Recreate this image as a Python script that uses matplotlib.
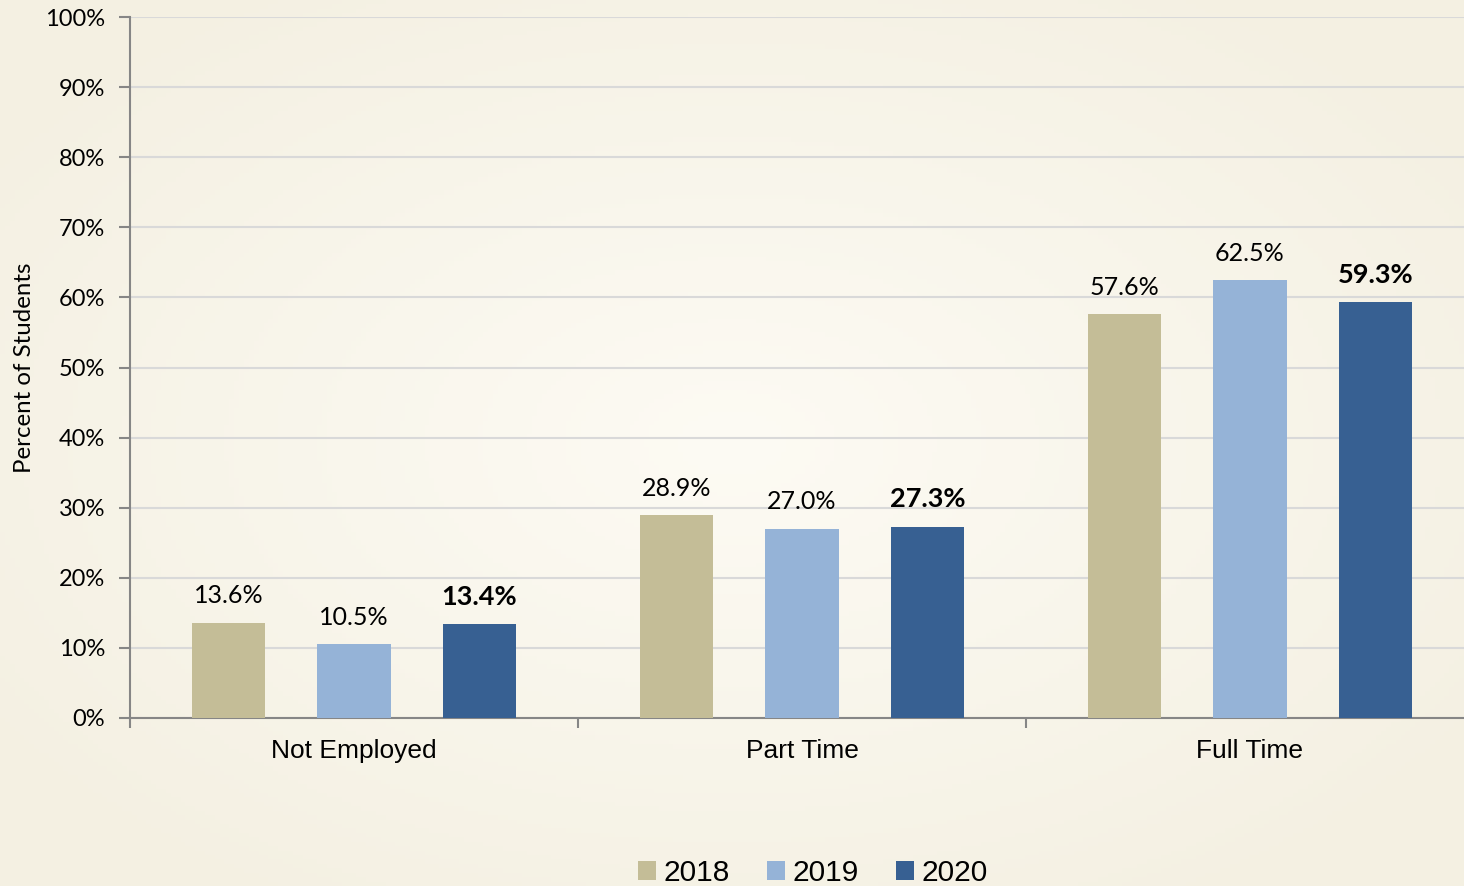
import numpy as np
import matplotlib
matplotlib.use("Agg")
import matplotlib.pyplot as plt
from matplotlib.colors import LinearSegmentedColormap

# ---- data -------------------------------------------------------------
categories = ["Not Employed", "Part Time", "Full Time"]
years = ["2018", "2019", "2020"]
values_2018 = [13.6, 28.9, 57.6]
values_2019 = [10.5, 27.0, 62.5]
values_2020 = [13.4, 27.3, 59.3]
y_ticks = [0, 10, 20, 30, 40, 50, 60, 70, 80, 90, 100]

series = [values_2018, values_2019, values_2020]
colors = ["#C4BD97", "#95B3D7", "#376092"]

W, H = 1464, 886
fig = plt.figure(figsize=(W / 100, H / 100), dpi=100)

# radial cream background
bg = fig.add_axes([0, 0, 1, 1], zorder=-10)
gx, gy = np.meshgrid(np.linspace(-1, 1, 300), np.linspace(-1, 1, 200))
r = np.clip(np.sqrt(gx ** 2 + gy ** 2) / 1.25, 0, 1)
cmap = LinearSegmentedColormap.from_list("cream", ["#FDFBF4", "#F4F0E2"])
bg.imshow(r, cmap=cmap, aspect="auto", extent=[0, 1, 0, 1], vmin=0, vmax=1)
bg.axis("off")

ax = fig.add_axes([130 / W, 1 - 718 / H, (W - 130) / W, (718 - 17) / H])
ax.set_facecolor("none")

x = np.arange(len(categories))
offset = 0.28
width = 0.163
label_font = ["Lato", "DejaVu Sans"]
for i, (vals, col) in enumerate(zip(series, colors)):
    pos = x + (i - 1) * offset
    ax.bar(pos, vals, width=width, color=col, label=years[i], zorder=3)
    bold = i == 2
    for px, v in zip(pos, vals):
        ax.annotate(f"{v:.1f}%", (px, v), xytext=(0, 11), textcoords="offset points",
                    ha="center", va="bottom", family=label_font,
                    fontsize=19.5 if bold else 18,
                    fontweight="bold" if bold else "normal", color="black")

ax.set_ylim(0, 100)
ax.set_xlim(-0.5, -0.5 + (W - 130) / 448)
ax.set_yticks(y_ticks)
ax.set_yticklabels([f"{t}%" for t in y_ticks], family=label_font, fontsize=17)
ax.yaxis.grid(True, color="#D9D9D9", linewidth=1.5, zorder=0)
ax.set_axisbelow(True)

ax.set_xticks(x)
ax.set_xticklabels(categories, family="Liberation Sans", fontsize=19)
ax.set_xticks(np.arange(len(categories)) - 0.5, minor=True)
ax.tick_params(axis="x", which="major", length=0, pad=15)
ax.tick_params(axis="x", which="minor", length=7, width=1.5, color="#868686", direction="out")
ax.tick_params(axis="y", length=8, width=1.5, color="#868686", pad=10)

for s in ["top", "right"]:
    ax.spines[s].set_visible(False)
for s in ["left", "bottom"]:
    ax.spines[s].set_color("#868686")
    ax.spines[s].set_linewidth(1.5)

ax.set_ylabel("Percent of Students", family=label_font, fontsize=17.3)
ax.yaxis.set_label_coords(-95 / (W - 130), 0.5)

leg = fig.legend(loc="center", bbox_to_anchor=(813 / W, 1 - 873 / H), ncol=3,
                 frameon=False, prop={"family": "Liberation Sans", "size": 21.5},
                 handlelength=0.6, handleheight=0.6, handletextpad=0.25, columnspacing=1.25)

fig.savefig("out.png", dpi=100)
